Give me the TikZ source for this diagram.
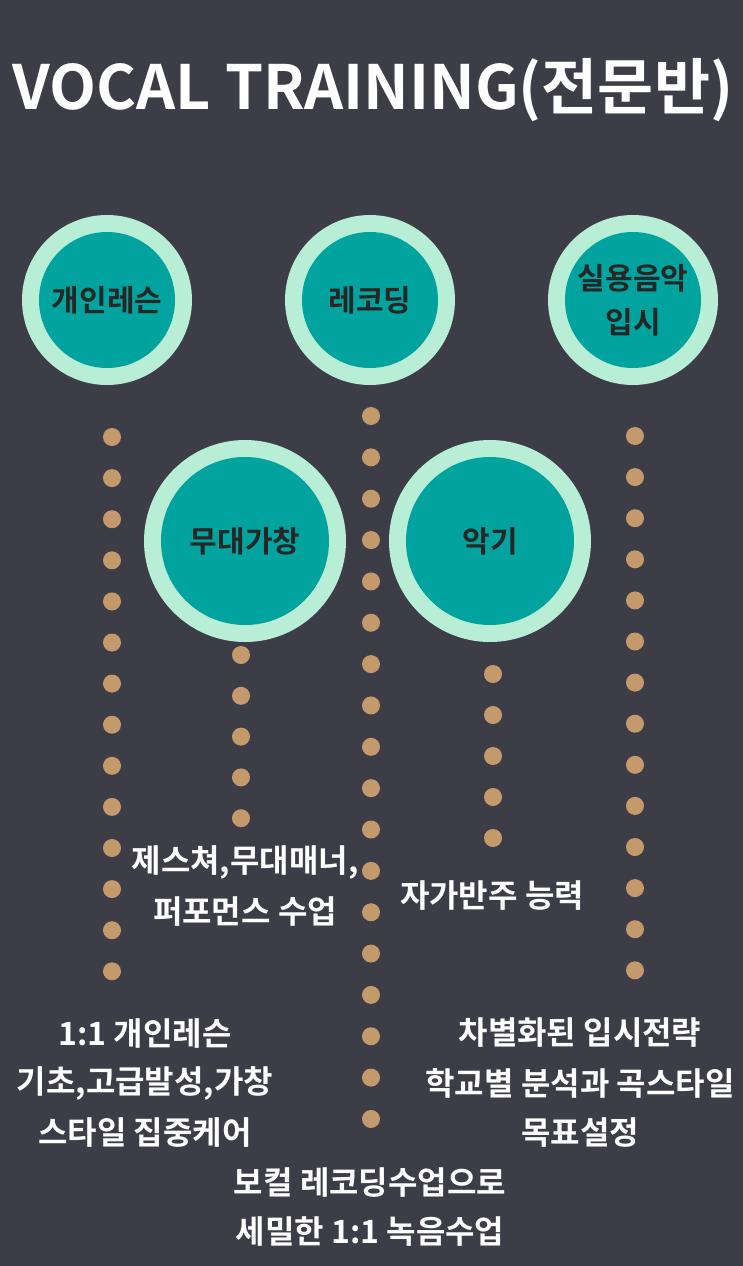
\documentclass[tikz,border=0pt]{standalone}
\usepackage{fontspec}
\setmainfont{Noto Sans CJK KR}[BoldFont={* Bold}]
\definecolor{bg}{HTML}{3C3D47}
\definecolor{mint}{HTML}{B8EDD6}
\definecolor{teal}{HTML}{00A39E}
\definecolor{dotc}{HTML}{C49A6C}
\begin{document}
\begin{tikzpicture}[x=1pt,y=-1pt,
  ring/.style={circle,fill=mint,draw=none},
  core/.style={circle,fill=teal,draw=none,font=\bfseries\fontsize{30}{44}\selectfont,text=black!85,align=center},
  dt/.style={circle,fill=dotc,minimum size=18pt,inner sep=0pt},
  lbl/.style={text=white,font=\bfseries\fontsize{32}{36}\selectfont,inner sep=0pt}]
\fill[bg] (0,0) rectangle (743,1266);
\useasboundingbox (0,0) rectangle (743,1266);
\node[text=white,font=\bfseries\fontsize{61}{70}\selectfont] (title) at (373,90) {VOCAL TRAINING(전문반)};
% dots
\foreach \i in {0,...,13} \node[dt] (a\i) at (112,437+41.1*\i) {};
\foreach \i in {0,...,17} \node[dt] (b\i) at (371,416+41.35*\i) {};
\foreach \i in {0,...,4} \node[dt] (c\i) at (241,655+40.8*\i) {};
\foreach \i in {0,...,4} \node[dt] (d\i) at (493,674+41*\i) {};
\foreach \i in {0,...,13} \node[dt] (e\i) at (635,436+41.1*\i) {};
% circles
\foreach \n/\x/\y/\r/\t in {p1/107/300/85/개인레슨, p2/370/300/85/레코딩, p3/633/300/85/{실용음악\\입시}, p4/245/541/101/무대가창, p5/490/541/101/악기}{
  \node[ring,minimum size=2*\r pt] (\n o) at (\x,\y) {};
  \node[core,minimum size=2*\r pt-34pt,inner sep=0pt] (\n) at (\x,\y) {\t};
}
\node[lbl] (t1) at (245,862) {제스쳐,무대매너,};
\node[lbl] (t2) at (245,912) {퍼포먼스 수업};
\node[lbl] (t3) at (492,895) {자가반주 능력};
\node[lbl] (t4) at (145,1033) {1:1 개인레슨};
\node[lbl] (t5) at (145,1083) {기초,고급발성,가창};
\node[lbl] (t6) at (145,1133) {스타일 집중케어};
\node[lbl] (t7) at (580,1033) {차별화된 입시전략};
\node[lbl] (t8) at (580,1083) {학교별 분석과 곡스타일};
\node[lbl] (t9) at (580,1133) {목표설정};
\node[lbl] (t10) at (370,1183) {보컬 레코딩수업으로};
\node[lbl] (t11) at (370,1232) {세밀한 1:1 녹음수업};
\end{tikzpicture}
\end{document}
